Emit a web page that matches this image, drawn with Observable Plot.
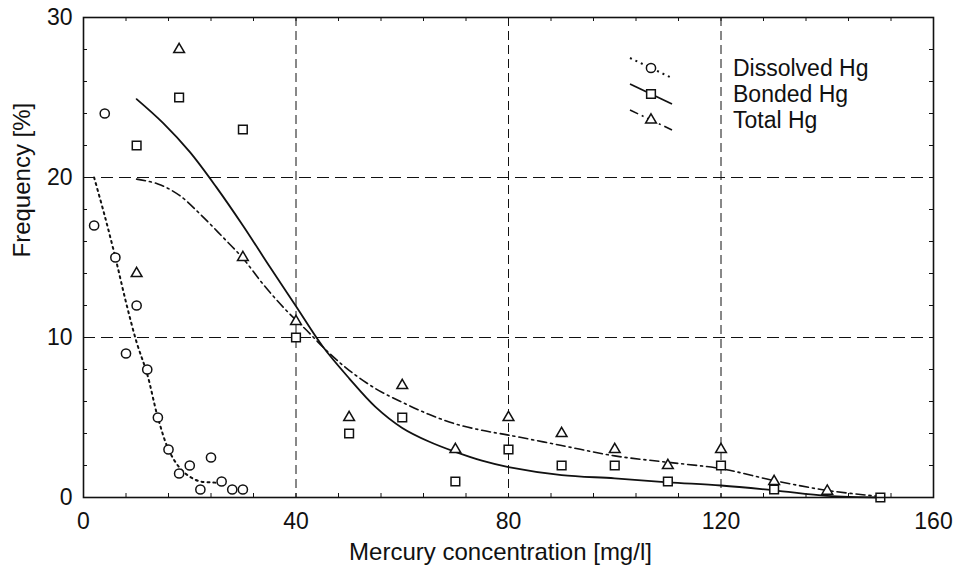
<!DOCTYPE html>
<html><head><meta charset="utf-8">
<script src="https://cdn.jsdelivr.net/npm/d3@7"></script>
<script src="https://cdn.jsdelivr.net/npm/@observablehq/plot@0.6"></script>
<style>
html,body{margin:0;padding:0;background:#fff;}
#chart{width:954px;height:571px;}
</style></head><body><div id="chart"></div>
<script>
// ---- data ----
const dissolvedX = [2,4,6,8,10,12,14,16,18,20,22,24,26,28,30];
const dissolvedY = [17,24,15,9,12,8,5,3,1.5,2,0.5,2.5,1,0.5,0.5];
const bondedX = [10,18,30,40,50,60,70,80,90,100,110,120,130,150];
const bondedY = [22,25,23,10,4,5,1,3,2,2,1,2,0.5,0];
const totalX = [10,18,30,40,50,60,70,80,90,100,110,120,130,140];
const totalY = [14,28,15,11,5,7,3,5,4,3,2,3,1,0.4];

const dissolvedFitX = [2,4,6,8,10,12,14,16,18,20,22,24,26];
const dissolvedFitY = [20,17.6,15,12.2,9.7,7.7,5,3,1.9,1.3,1.0,0.95,0.9];
const bondedFitX = [10,15,20,25,30,35,40,45,50,55,60,65,70,75,80,90,100,110,120,130,140,150];
const bondedFitY = [24.9,23.4,21.6,19.4,17.0,14.45,11.95,9.45,7.45,5.65,4.35,3.5,2.85,2.3,1.9,1.4,1.2,0.95,0.75,0.45,0.1,0];
const totalFitX = [10,14,18,22,26,30,34,38,42,46,50,55,60,65,70,75,80,90,100,110,120,130,140,150];
const totalFitY = [19.9,19.6,18.9,17.7,16.35,14.95,13.25,11.75,10.45,9.1,7.95,6.8,5.95,5.2,4.6,4.2,3.9,3.25,2.6,2.2,1.8,1.06,0.44,0.06];

const xTicks = [0,40,80,120,160];
const yTicks = [0,10,20,30];
const xGrid = [40,80,120];
const yGrid = [10,20];
const xMinor = d3.range(0,161,8);
const yMinor = d3.range(0,31,2);
const xLabel = "Mercury concentration [mg/l]";
const yLabel = "Frequency [%]";
const legendNames = ["Dissolved Hg","Bonded Hg","Total Hg"];

// ---- styles ----
const ink = "#111";
const series = [
  {symbol:"circle", r:4.6, dash:"2,4", width:2},
  {symbol:"square", r:4.9, dash:null, width:1.8},
  {symbol:"triangle", r:4.0, dash:"9,4,2,4", width:1.6}
];
const toPts = (xs, ys) => xs.map((x,i) => ({x, y: ys[i]}));
const dissolved = toPts(dissolvedX, dissolvedY);
const bonded = toPts(bondedX, bondedY);
const total = toPts(totalX, totalY);
const fits = [toPts(dissolvedFitX, dissolvedFitY), toPts(bondedFitX, bondedFitY), toPts(totalFitX, totalFitY)];
const pts = [dissolved, bonded, total];

const plotH = 571 - 17 - 74, plotW = 954 - 83 - 21;

function legendMark(index, scales, values, dims) {
  const g = d3.create("svg:g").attr("font-family","'Liberation Sans', Arial, sans-serif").attr("font-size", 23).attr("fill", ink);
  legendNames.forEach((name, i) => {
    const s = series[i];
    const cx = 651, cy = 68 + i * 26;
    g.append("line").attr("x1", cx - 21).attr("y1", cy - 10).attr("x2", cx + 21).attr("y2", cy + 10)
      .attr("stroke", ink).attr("stroke-width", s.width).attr("stroke-dasharray", s.dash);
    const sym = s.symbol === "circle" ? d3.symbolCircle : s.symbol === "square" ? d3.symbolSquare : d3.symbolTriangle;
    g.append("path").attr("transform", `translate(${cx},${cy})`).attr("d", d3.symbol(sym, Math.PI * s.r * s.r)())
      .attr("fill", "white").attr("stroke", ink).attr("stroke-width", 1.5);
    g.append("text").attr("x", 733).attr("y", cy).attr("dy", "0.35em").attr("text-anchor", "start").text(name);
  });
  return g.node();
}

const marks = [
  Plot.ruleX(xGrid, {stroke: ink, strokeDasharray: "9,5", strokeWidth: 1}),
  Plot.ruleY(yGrid, {stroke: ink, strokeDasharray: "12,6", strokeWidth: 1}),
  Plot.tickX(xMinor, {x: d => d, insetTop: plotH - 4, stroke: ink}),
  Plot.tickX(xMinor, {x: d => d, insetBottom: plotH - 4, stroke: ink}),
  Plot.tickY(yMinor, {y: d => d, insetRight: plotW - 4, stroke: ink}),
  Plot.tickY(yMinor, {y: d => d, insetLeft: plotW - 4, stroke: ink}),
];
fits.forEach((f, i) => marks.push(Plot.line(f, {x: "x", y: "y", curve: "catmull-rom", stroke: ink, strokeWidth: series[i].width, strokeDasharray: series[i].dash})));
pts.forEach((p, i) => marks.push(Plot.dot(p, {x: "x", y: "y", symbol: series[i].symbol, r: series[i].r, stroke: ink, fill: "white", strokeWidth: 1.5})));
marks.push(
  Plot.frame({stroke: ink, strokeWidth: 1.6}),
  Plot.axisX({ticks: xTicks, tickSize: 0, tickPadding: 15, fontSize: 23, label: null}),
  Plot.axisY({ticks: yTicks, tickSize: 0, tickPadding: 11, fontSize: 23, label: null}),
  Plot.text([xLabel], {frameAnchor: "bottom", dy: 62, dx: -8, fontSize: 24, text: d => d, fill: ink}),
  Plot.text([yLabel], {frameAnchor: "left", dx: -61, rotate: -90, fontSize: 24, text: d => d, fill: ink}),
  legendMark
);

const chart = Plot.plot({
  width: 954, height: 571,
  marginLeft: 83, marginRight: 21, marginTop: 17, marginBottom: 74,
  style: {fontFamily: "'Liberation Sans', Arial, sans-serif", fontSize: "23px", color: ink, background: "#fff"},
  x: {domain: [0, 160]},
  y: {domain: [0, 30]},
  marks
});
document.getElementById("chart").appendChild(chart);
</script></body></html>
